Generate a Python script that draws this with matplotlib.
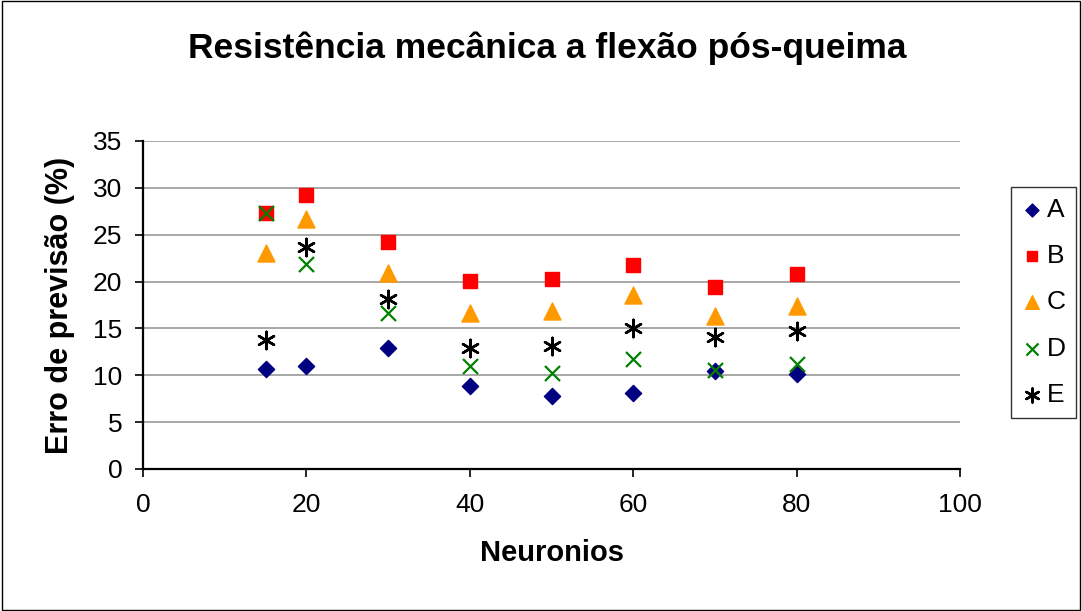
import matplotlib
matplotlib.use('Agg')
import matplotlib.pyplot as plt
from matplotlib.patches import Rectangle

plt.rcParams['font.family'] = ['Liberation Sans', 'DejaVu Sans']

# dados
neuronios = [15, 20, 30, 40, 50, 60, 70, 80]
serie_a = [10.7, 11.0, 12.9, 8.9, 7.8, 8.1, 10.5, 10.1]
serie_b = [27.3, 29.2, 24.2, 20.1, 20.3, 21.8, 19.4, 20.8]
serie_c = [23.0, 26.7, 20.9, 16.6, 16.9, 18.6, 16.3, 17.4]
serie_d = [27.3, 21.9, 16.6, 11.0, 10.2, 11.7, 10.6, 11.2]
serie_e = [13.8, 23.7, 18.1, 12.9, 13.1, 15.0, 14.1, 14.7]

fig = plt.figure(figsize=(10.82, 6.11), dpi=100)
ax = fig.add_axes([143/1082, 1 - 469/611, (960-143)/1082, (469-141)/611])

ax.scatter(neuronios, serie_a, marker='D', s=68, color='#000080', label='A', zorder=3)
ax.scatter(neuronios, serie_b, marker='s', s=88, color='#FF0000', label='B', zorder=3)
ax.scatter(neuronios, serie_c, marker='^', s=150, color='#FF9900', label='C', zorder=3)
ax.scatter(neuronios, serie_d, marker='x', s=117, color='#008000', linewidths=1.6, label='D', zorder=3)
ax.scatter(neuronios, serie_e, marker=(6, 2, 0), s=155, color='#000000', linewidths=1.8, label='E', zorder=3)

ax.set_xlim(0, 100)
ax.set_ylim(0, 35)
ax.set_xticks(range(0, 101, 20))
ax.set_yticks(range(0, 36, 5))
ax.grid(axis='y', color='#999999', linewidth=1.2)
ax.set_axisbelow(True)
for s in ['top', 'right']:
    ax.spines[s].set_visible(False)
for s in ['left', 'bottom']:
    ax.spines[s].set_linewidth(1.6)
ax.tick_params(direction='out', length=6, width=1.2, labelsize=19)
ax.tick_params(axis='x', pad=11)
ax.tick_params(axis='y', pad=9)

ax.set_xlabel('Neuronios', fontsize=21, fontweight='bold', labelpad=16)
ax.set_ylabel('Erro de previsão (%)', fontsize=22, fontweight='bold', labelpad=13)
fig.text(547/1082, 1 - 48/611, 'Resistência mecânica a flexão pós-queima',
         fontsize=25.5, fontweight='bold', ha='center', va='center')

leg = fig.legend(loc='upper left', bbox_to_anchor=(1011/1082, 1 - 187/611),
                 borderaxespad=0, fontsize=19, frameon=True, fancybox=False,
                 edgecolor='black', handletextpad=0.15, labelspacing=0.85,
                 borderpad=0.4, handlelength=0.8, scatterpoints=1, markerscale=0.8)
leg.get_frame().set_linewidth(1.0)

fig.patches.append(Rectangle((0.002, 0.002), 0.996, 0.996, transform=fig.transFigure,
                             fill=False, edgecolor='black', linewidth=1.0))

fig.savefig('out.png', dpi=100)
